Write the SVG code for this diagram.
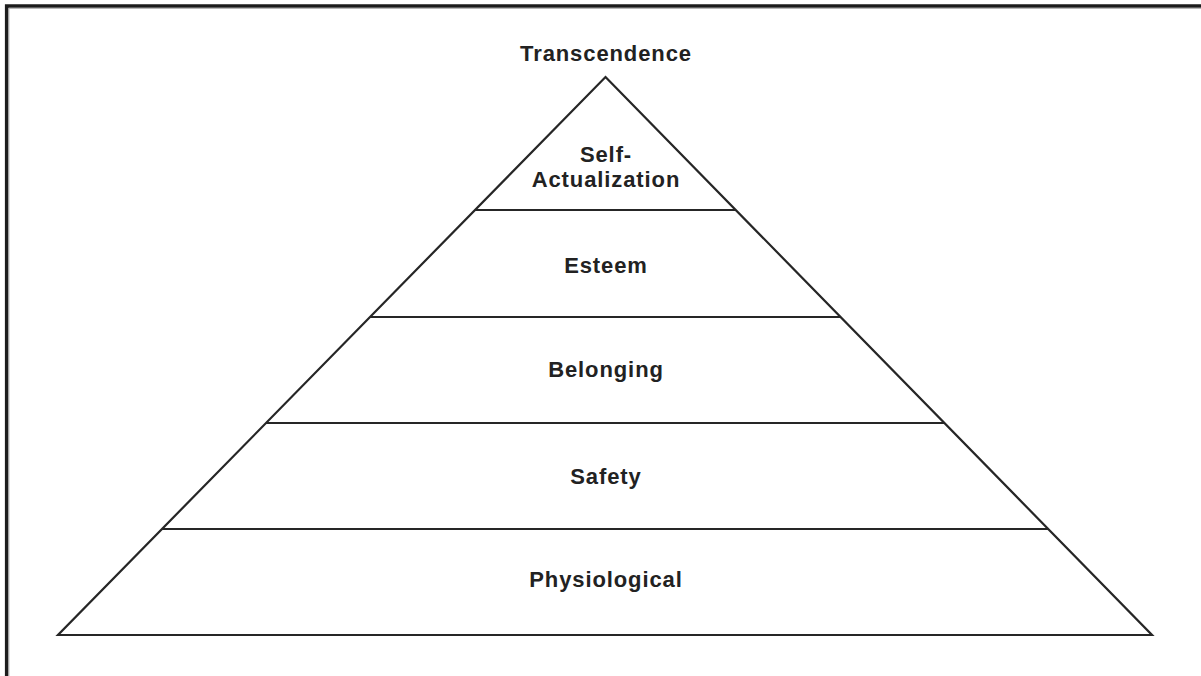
<svg xmlns="http://www.w3.org/2000/svg" width="1201" height="676" viewBox="0 0 1201 676">
<style>
.edge{fill:none;stroke:#262626;stroke-width:2.2;stroke-linejoin:miter}
.lbl{font-family:"Liberation Sans",Arial,sans-serif;font-weight:bold;font-size:22px;letter-spacing:0.9px;fill:#222;text-anchor:middle}
</style>
<rect width="1201" height="676" fill="#fff"/>
<g id="frame">
<path d="M6.7,676 V6 H1201" fill="none" stroke="#1c1c1c" stroke-width="3.6"/>
<path d="M8.9,676 V8.4 H1201" fill="none" stroke="#b0b0b0" stroke-width="1"/>
</g>
<g id="pyramid-outline">
<polygon class="edge" points="605.5,77 1152,635 58,635"/>
</g>
<g id="connectors">
<line class="edge" x1="475" y1="210" x2="735.8" y2="210"/>
<line class="edge" x1="370" y1="317" x2="840.6" y2="317"/>
<line class="edge" x1="266" y1="423" x2="944.4" y2="423"/>
<line class="edge" x1="162" y1="529" x2="1048.2" y2="529"/>
</g>
<g id="transcendence"><text class="lbl" x="606" y="61">Transcendence</text></g>
<g id="self-actualization"><text class="lbl" x="606" y="162">Self-</text><text class="lbl" x="606" y="187">Actualization</text></g>
<g id="esteem"><text class="lbl" x="606" y="273">Esteem</text></g>
<g id="belonging"><text class="lbl" x="606" y="377">Belonging</text></g>
<g id="safety"><text class="lbl" x="606" y="484">Safety</text></g>
<g id="physiological"><text class="lbl" x="606" y="587">Physiological</text></g>
</svg>
